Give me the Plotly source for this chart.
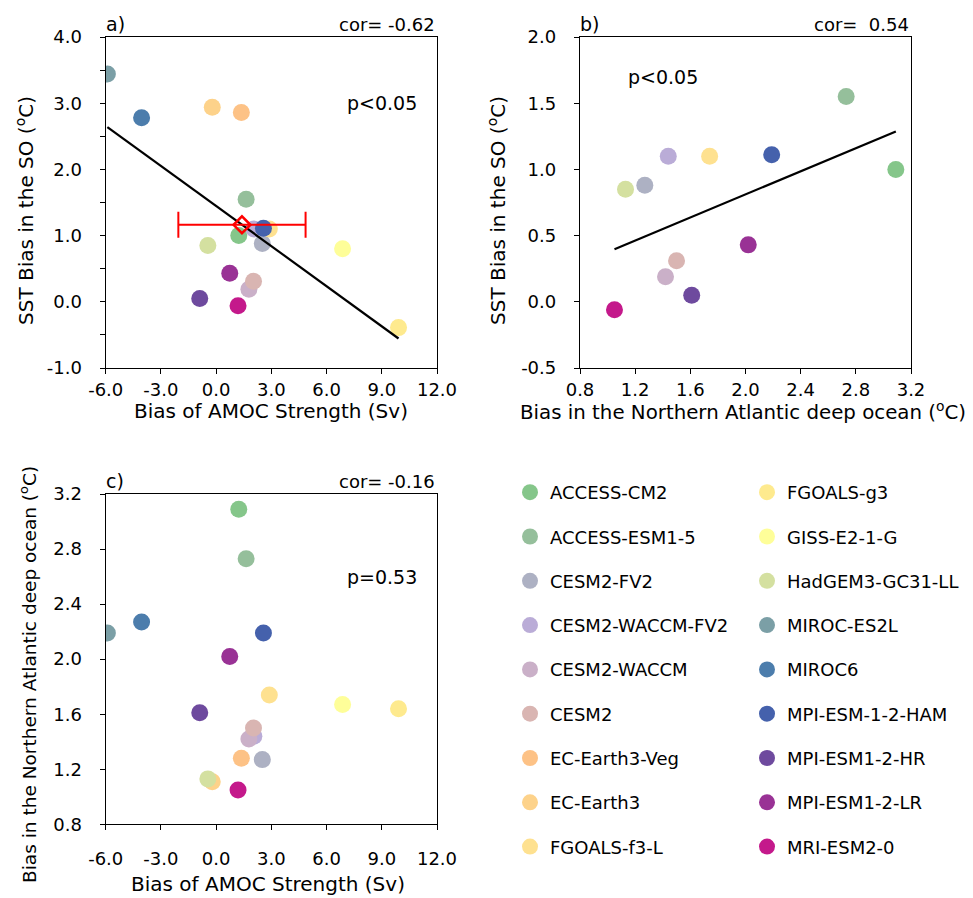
import numpy as np
import plotly.graph_objects as go

# ---------------- data ----------------
models = ["ACCESS-CM2", "ACCESS-ESM1-5", "CESM2-FV2", "CESM2-WACCM-FV2", "CESM2-WACCM",
          "CESM2", "EC-Earth3-Veg", "EC-Earth3", "FGOALS-f3-L", "FGOALS-g3",
          "GISS-E2-1-G", "HadGEM3-GC31-LL", "MIROC-ES2L", "MIROC6", "MPI-ESM-1-2-HAM",
          "MPI-ESM1-2-HR", "MPI-ESM1-2-LR", "MRI-ESM2-0"]
colors = ["#85C68A", "#95BF9B", "#ADB1C3", "#BAACD7", "#CAB0C8",
          "#D9B5B2", "#FDC286", "#FDD28A", "#FEE190", "#FEEA8E",
          "#FEFE99", "#D4E0A0", "#7B9FA6", "#4C7DAC", "#4561AC",
          "#6E4A9E", "#993295", "#C4198B"]
# Bias of AMOC strength (Sv)
amoc = [1.23, 1.63, 2.51, 2.05, 1.78, 2.03, 1.37, -0.21, 2.89, 9.91,
        6.87, -0.45, -5.91, -4.05, 2.57, -0.89, 0.74, 1.19]
# SST bias in the Southern Ocean (degC)
so_sst = [1.00, 1.55, 0.88, 1.10, 0.19, 0.31, 2.86, 2.94, 1.10, -0.39,
          0.80, 0.85, 3.44, 2.78, 1.11, 0.05, 0.43, -0.06]
# Bias in the Northern Atlantic deep ocean (degC)
na_deep = [3.09, 2.73, 1.27, 1.44, 1.42, 1.50, 1.28, 1.11, 1.74, 1.64,
           1.67, 1.13, 2.19, 2.27, 2.19, 1.61, 2.02, 1.05]
# models shown in panel b
in_b = [True, True, True, True, True, True, False, False, True, False,
        False, True, False, False, True, True, True, True]

# tick values (labels printed with a plain hyphen minus)
amoc_ticks = [-6, -3, 0, 3, 6, 9, 12]
so_ticks_a = [-1, 0, 1, 2, 3, 4]
so_minor_a = [-0.5, 0.5, 1.5, 2.5, 3.5]
so_ticks_b = [-0.5, 0.0, 0.5, 1.0, 1.5, 2.0]
na_ticks = [0.8, 1.2, 1.6, 2.0, 2.4, 2.8, 3.2]

panel_labels = ["a)", "b)", "c)"]
cor_labels = ["cor= -0.62", "cor=  0.54", "cor= -0.16"]
p_labels = ["p&lt;0.05", "p&lt;0.05", "p=0.53"]
sup = "(<sup>o</sup>C)"
x_titles = ["Bias of AMOC Strength (Sv)",
            "Bias in the Northern Atlantic deep ocean " + sup,
            "Bias of AMOC Strength (Sv)"]
y_titles = ["SST Bias in the SO " + sup,
            "SST Bias in the SO " + sup,
            "Bias in the Northern Atlantic deep ocean " + sup]

FONT = "DejaVu Sans"

# page geometry (the html body has an 8px margin)
OFF = 8
W = 973 - OFF
H = 898 - OFF


def px(v):
    return (v - OFF) / W


def py(v):
    return 1 - (v - OFF) / H


def lab(vals):
    return ["%.1f" % v for v in vals]


fig = go.Figure()

# ---------------- scatter points ----------------
for i, m in enumerate(models):
    leg = "legend" if i < 9 else "legend2"
    fig.add_trace(go.Scatter(x=[amoc[i]], y=[so_sst[i]], mode="markers", name=m,
                             marker=dict(size=17, color=colors[i]),
                             legend=leg, legendgroup=m, showlegend=True,
                             xaxis="x", yaxis="y"))
    if in_b[i]:
        fig.add_trace(go.Scatter(x=[na_deep[i]], y=[so_sst[i]], mode="markers", name=m,
                                 marker=dict(size=17, color=colors[i]),
                                 legendgroup=m, showlegend=False,
                                 xaxis="x2", yaxis="y2"))
    fig.add_trace(go.Scatter(x=[amoc[i]], y=[na_deep[i]], mode="markers", name=m,
                             marker=dict(size=17, color=colors[i]),
                             legendgroup=m, showlegend=False,
                             xaxis="x3", yaxis="y3"))


# ---------------- regression lines ----------------
def fit_line(xs, ys):
    xs = np.asarray(xs, float)
    ys = np.asarray(ys, float)
    k, b = np.polyfit(xs, ys, 1)
    xx = np.array([xs.min(), xs.max()])
    return xx, k * xx + b


xa, ya = fit_line(amoc, so_sst)
fig.add_trace(go.Scatter(x=xa, y=ya, mode="lines", line=dict(color="black", width=2.2),
                         showlegend=False, xaxis="x", yaxis="y", hoverinfo="skip"))
xb_all = [na_deep[i] for i in range(len(models)) if in_b[i]]
yb_all = [so_sst[i] for i in range(len(models)) if in_b[i]]
xb, yb = fit_line(xb_all, yb_all)
fig.add_trace(go.Scatter(x=xb, y=yb, mode="lines", line=dict(color="black", width=2.2),
                         showlegend=False, xaxis="x2", yaxis="y2", hoverinfo="skip"))

# ---------------- ensemble mean with spread ----------------
mean_x = float(np.mean(amoc))
mean_y = float(np.mean(so_sst))
std_x = float(np.std(amoc, ddof=1))
fig.add_trace(go.Scatter(x=[mean_x], y=[mean_y], mode="markers",
                         marker=dict(symbol="diamond-open", size=13, color="red",
                                     line=dict(color="red", width=2.5)),
                         error_x=dict(type="data", array=[std_x], color="red",
                                      thickness=2, width=13),
                         showlegend=False, xaxis="x", yaxis="y"))

# ---------------- axes ----------------
tickfont = dict(family=FONT, size=18, color="black")
common = dict(showline=True, mirror=True, linecolor="black", linewidth=1.3,
              ticks="outside", ticklen=5, tickcolor="black", tickwidth=1.2,
              showgrid=False, zeroline=False, tickfont=tickfont, automargin=False,
              tickmode="array")

dom_ax = [px(105.7), px(437)]
dom_bx = [px(580), px(911)]
dom_top = [py(368), py(37)]
dom_bot = [py(824.3), py(494)]

fig.update_layout(
    xaxis=dict(domain=dom_ax, range=[-6, 12], tickvals=amoc_ticks, ticktext=lab(amoc_ticks),
               anchor="y", ticklabelstandoff=0, **common),
    yaxis=dict(domain=dom_top, range=[-1, 4], tickvals=so_ticks_a, ticktext=lab(so_ticks_a),
               anchor="x", ticklabelstandoff=14,
               minor=dict(tickmode="array", tickvals=so_minor_a, ticks="outside",
                          ticklen=5, tickcolor="black", tickwidth=1.2, showgrid=False),
               **common),
    xaxis2=dict(domain=dom_bx, range=[0.8, 3.2], tickvals=na_ticks, ticktext=lab(na_ticks),
                anchor="y2", ticklabelstandoff=0, **common),
    yaxis2=dict(domain=dom_top, range=[-0.5, 2.0], tickvals=so_ticks_b, ticktext=lab(so_ticks_b),
                anchor="x2", ticklabelstandoff=14, **common),
    xaxis3=dict(domain=dom_ax, range=[-6, 12], tickvals=amoc_ticks, ticktext=lab(amoc_ticks),
                anchor="y3", ticklabelstandoff=13, **common),
    yaxis3=dict(domain=dom_bot, range=[0.8, 3.2], tickvals=na_ticks, ticktext=lab(na_ticks),
                anchor="x3", ticklabelstandoff=14, **common),
)

# ---------------- annotations ----------------
ann = []
panels = [("x", "y", dom_ax, dom_top), ("x2", "y2", dom_bx, dom_top), ("x3", "y3", dom_ax, dom_bot)]
for k, (xr, yr, dx, dy) in enumerate(panels):
    ann.append(dict(text=panel_labels[k], xref="paper", yref="paper", x=dx[0] - 0.002,
                    y=dy[1], xanchor="left", yanchor="bottom", showarrow=False,
                    font=dict(family=FONT, size=19, color="black")))
    ann.append(dict(text=cor_labels[k], xref="paper", yref="paper", x=dx[1],
                    y=dy[1], xanchor="right", yanchor="bottom", showarrow=False,
                    font=dict(family=FONT, size=18, color="black")))
p_pos = [(9.0, 3.0), (1.4, 1.7), (9.0, 2.6)]
for k, (xr, yr, dx, dy) in enumerate(panels):
    ann.append(dict(text=p_labels[k], xref=xr, yref=yr, x=p_pos[k][0], y=p_pos[k][1],
                    xanchor="center", yanchor="middle", showarrow=False,
                    font=dict(family=FONT, size=19, color="black")))

# axis titles (page pixel centres)
x_title_pos = [(271, 411), (743, 411), (268, 884)]
x_title_size = [20, 19.8, 20]
for k in range(3):
    ann.append(dict(text=x_titles[k], xref="paper", yref="paper",
                    x=px(x_title_pos[k][0]), y=py(x_title_pos[k][1]),
                    xanchor="center", yanchor="middle", showarrow=False,
                    font=dict(family=FONT, size=x_title_size[k], color="black")))
y_title_pos = [(25, 211), (497, 211), (28, 675)]
y_title_size = [20, 20, 18.5]
for k in range(3):
    ann.append(dict(text=y_titles[k], xref="paper", yref="paper", textangle=-90,
                    x=px(y_title_pos[k][0]), y=py(y_title_pos[k][1]),
                    xanchor="center", yanchor="middle", showarrow=False,
                    font=dict(family=FONT, size=y_title_size[k], color="black")))

legend_common = dict(font=dict(family=FONT, size=18, color="black"),
                     tracegroupgap=17.9, traceorder="grouped", orientation="v",
                     bgcolor="rgba(0,0,0,0)", borderwidth=0,
                     xanchor="left", yanchor="top", itemsizing="trace")
fig.update_layout(
    annotations=ann,
    legend=dict(x=px(510), y=py(474), **legend_common),
    legend2=dict(x=px(747), y=py(474), **legend_common),
    width=W, height=H,
    margin=dict(l=0, r=0, t=0, b=0),
    paper_bgcolor="white", plot_bgcolor="white",
    font=dict(family=FONT, color="black"),
)

fig.write_html("out.html")
